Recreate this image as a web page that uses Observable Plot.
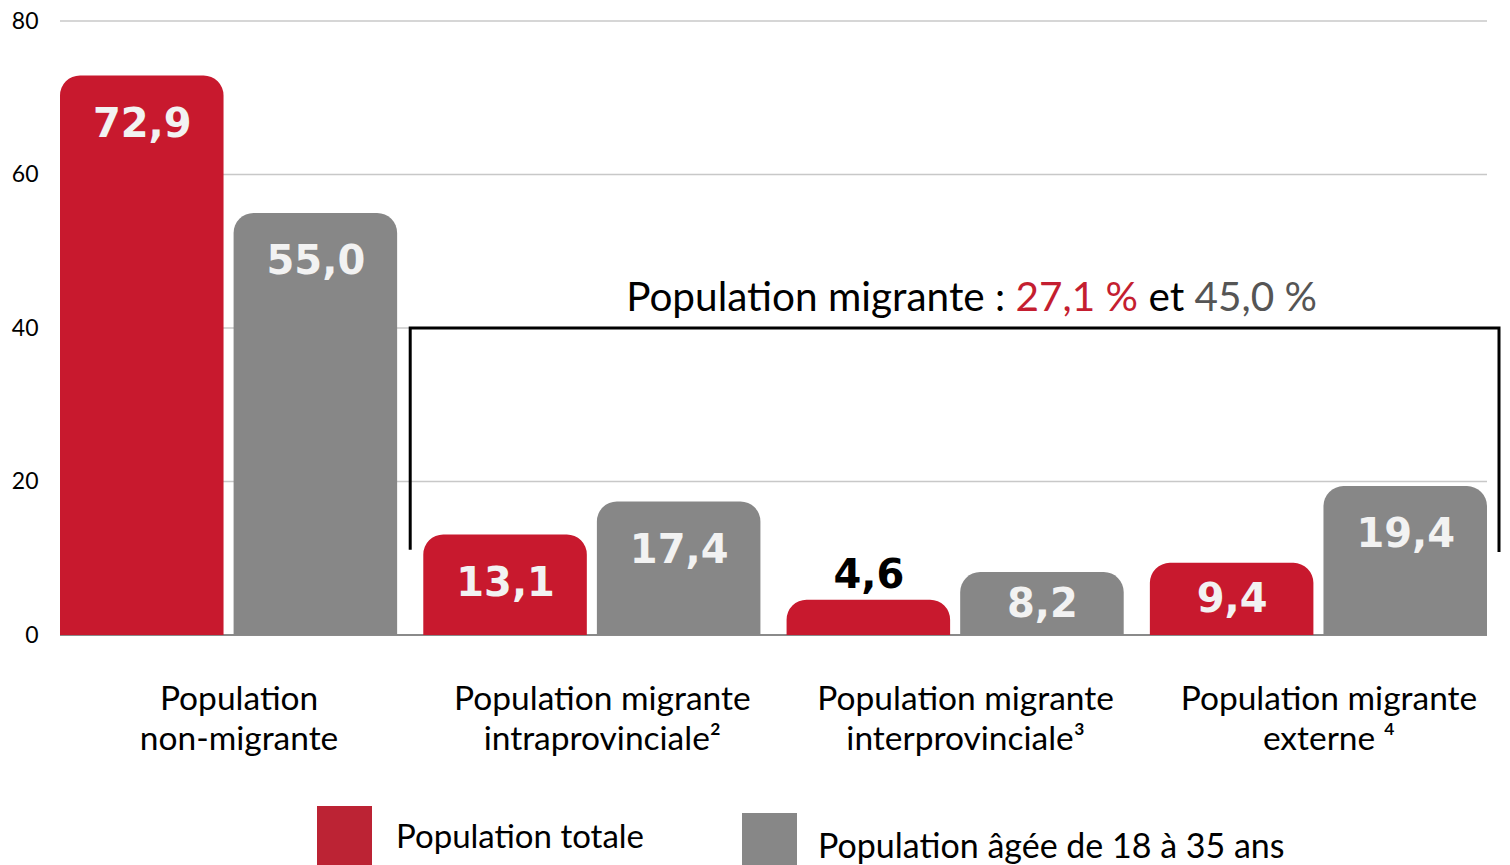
<!DOCTYPE html>
<html>
<head>
<meta charset="utf-8">
<script src="https://cdn.jsdelivr.net/npm/d3@7"></script>
<script src="https://cdn.jsdelivr.net/npm/@observablehq/plot@0.6"></script>
<style>
  html, body { margin: 0; padding: 0; background: #fff; overflow: hidden; }
  body { width: 1510px; height: 865px; position: relative; font-family: Lato, "Noto Sans", sans-serif; }
  #chart { position: absolute; left: 0; top: 0; }
  .leg { position: absolute; display: flex; align-items: center; font-size: 33px; color: #000; }
  .sw { width: 55px; height: 60px; margin-right: 24px; }
</style>
</head>
<body>
<div id="chart"></div>
<div class="leg" style="left:317px; top:806px;"><div class="sw" style="background:#BC2334"></div><span style="margin-top:-2px">Population totale</span></div>
<div class="leg" style="left:742px; top:813px;"><div class="sw" style="background:#878787"></div><span style="margin-top:2px; margin-left:-3px; font-size:34px">Population âgée de 18 à 35 ans</span></div>
<script>
const groups = [
  "Population\nnon-migrante",
  "Population migrante\nintraprovinciale²",
  "Population migrante\ninterprovinciale³",
  "Population migrante\nexterne ⁴"
];
const series = ["Population totale", "Population âgée de 18 à 35 ans"];
const totale = [72.9, 13.1, 4.6, 9.4];
const jeunes = [55.0, 17.4, 8.2, 19.4];
const yTicks = [0, 20, 40, 60, 80];
const annotation = ["Population migrante : ", "27,1 %", " et ", "45,0 %"];

const data = groups.flatMap((g, i) => [
  {group: g, serie: series[0], value: totale[i]},
  {group: g, serie: series[1], value: jeunes[i]}
]);
const fmt = v => v.toFixed(1).replace(".", ",");
const numFont = {fontFamily: "DejaVu Sans", fontWeight: "bold", fontSize: 40};

const plot = Plot.plot({
  width: 1510,
  height: 800,
  marginLeft: 60,
  marginRight: 23,
  marginTop: 21,
  marginBottom: 165,
  style: {fontFamily: "Lato, 'Noto Sans', sans-serif", color: "#000", background: "#fff"},
  fx: {domain: groups, paddingInner: 0.072, paddingOuter: 0, round: false},
  x: {domain: series, paddingInner: 0.058, paddingOuter: 0, round: false, axis: null},
  y: {domain: [0, 80]},
  color: {domain: series, range: ["#C8192E", "#878787"]},
  marks: [
    Plot.barY(data, {fx: "group", x: "serie", y: "value", fill: "serie", ry1: 20}),
    Plot.text(data, {filter: d => d.value >= 10, fx: "group", x: "serie", y: "value", text: d => fmt(d.value), dy: 48, fill: "#F2F2F2", ...numFont}),
    Plot.text(data, {filter: d => d.value >= 5 && d.value < 10, fx: "group", x: "serie", y: d => d.value / 2, text: d => fmt(d.value), fill: "#F2F2F2", ...numFont}),
    Plot.text(data, {filter: d => d.value < 5, fx: "group", x: "serie", y: "value", text: d => fmt(d.value), dy: -25, fill: "#000", ...numFont}),
    Plot.axisY({ticks: yTicks, tickSize: 0, tickPadding: 22, fontSize: 23, label: null}),
    Plot.axisFx({anchor: "bottom", tickSize: 0, tickPadding: 46, dx: 10, fontSize: 33.5, lineHeight: 1.19, label: null})
  ]
});
document.getElementById("chart").appendChild(plot);

const fx = plot.scale("fx");
const y = plot.scale("y");
const bw = fx.bandwidth;
const svg = d3.select(plot);

// continuous gridlines behind the bars, from the y scale
const x0 = fx.range[0], x1 = fx.range[1];
const grid = svg.insert("g", ":first-child");
grid.selectAll("line").data(yTicks).join("line")
  .attr("x1", x0).attr("x2", x1)
  .attr("y1", d => y.apply(d)).attr("y2", d => y.apply(d))
  .attr("stroke", d => d === 0 ? "#8a8a8a" : "#c8c8c8")
  .attr("stroke-width", d => d === 0 ? 2 : 1.5);

// bracket + annotation
const xL = (fx.apply(groups[0]) + bw + fx.apply(groups[1])) / 2;
const xR = fx.apply(groups[3]) + bw + 12;
svg.append("path")
  .attr("d", `M${xL},${y.apply(11.1)}V${y.apply(40)}H${xR}V${y.apply(10.8)}`)
  .attr("fill", "none").attr("stroke", "#000").attr("stroke-width", 3);
const t = svg.append("text")
  .attr("x", (xL + xR) / 2 + 17)
  .attr("y", y.apply(40) - 17)
  .attr("text-anchor", "middle")
  .attr("font-size", 40.5)
  .attr("font-family", "Lato, 'Noto Sans', sans-serif");
const colors = ["#000", "#C41E30", "#000", "#555555"];
annotation.forEach((s, i) => t.append("tspan").attr("fill", colors[i]).text(s));
</script>
</body>
</html>
